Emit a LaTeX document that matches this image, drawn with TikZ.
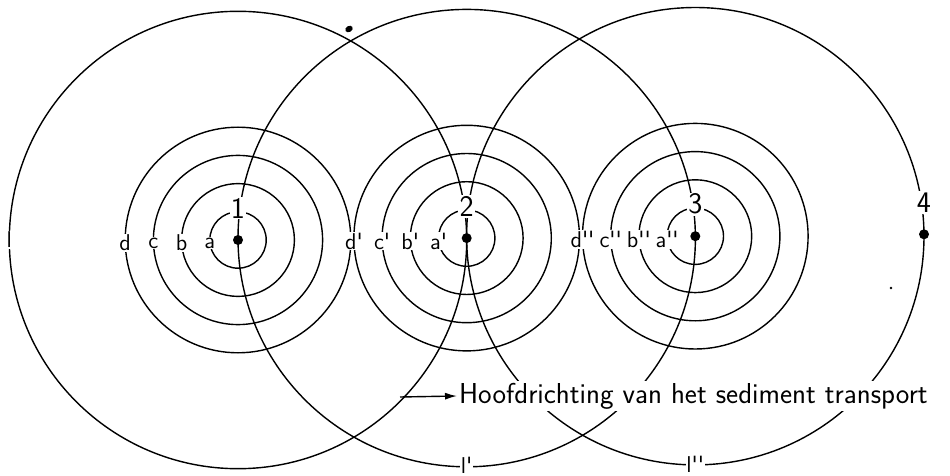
\documentclass[tikz,border=0pt]{standalone}
\usetikzlibrary{arrows.meta}
\tikzset{
  ring/.style={line width=.8pt},
  centre dot/.style={circle,fill,inner sep=0pt,minimum size=2mm},
  ring label/.style={fill=white,inner sep=.6pt,font=\sffamily\fontsize{13}{13}\selectfont},
  point label/.style={fill=white,inner sep=.8pt,font=\sffamily\fontsize{17}{17}\selectfont},
  flow label/.style={fill=white,inner sep=1pt,font=\sffamily\fontsize{16.4}{16.4}\selectfont},
  flow arrow/.style={line width=.8pt,-{Latex[length=2.4mm,width=1.4mm]}}
}
\begin{document}
\begin{tikzpicture}[x=0.02cm,y=-0.02cm]
  \useasboundingbox (0,0) rectangle (950,476);
  % measuring points
  \node[centre dot] (p1) at (238,240) {};
  \node[centre dot] (p2) at (466.7,238.1) {};
  \node[centre dot] (p3) at (695.3,236.2) {};
  \node[centre dot] (p4) at (924,234.3) {};
  % large circles and concentric rings
  \foreach \n in {1,2,3} {
    \draw[ring] (p\n.center) circle[radius=228.7];
    \foreach \r in {28.2,56.4,84.6,112.8}
      \draw[ring] (p\n.center) circle[radius=\r];
  }
  % ring letters
  \foreach \n/\s in {1/{},2/{\textquotesingle},3/{\textquotesingle\textquotesingle}}
    \foreach \r/\l in {28.2/a,56.4/b,84.6/c,112.8/d}
      \node[ring label] (\l\n) at ([shift={(-\r,3)}]p\n.center) {\l\s};
  % point numbers
  \foreach \n in {1,...,4}
    \node[point label] (n\n) at ([shift={(0,-32)}]p\n.center) {\n};
  % large circle marks
  \node[ring label] (l1) at (9.3,240) {l};
  \node[ring label,inner sep=.3pt] (l2) at (466.7,465) {l\textquotesingle};
  \node[ring label,inner sep=.3pt] (l3) at (695.3,464) {l\textquotesingle\textquotesingle};
  % transport direction
  \node[flow label,anchor=west] (flow) at (457,396) {Hoofdrichting van het sediment transport};
  \coordinate (flowstart) at (400,397);
  \draw[flow arrow] (flowstart) -- (flow.west);
  % specks
  \fill[rotate around={30:(349,29)}] (349,29) ellipse[x radius=4,y radius=3];
  \fill (891,288) circle[radius=1.3];
\end{tikzpicture}
\end{document}
